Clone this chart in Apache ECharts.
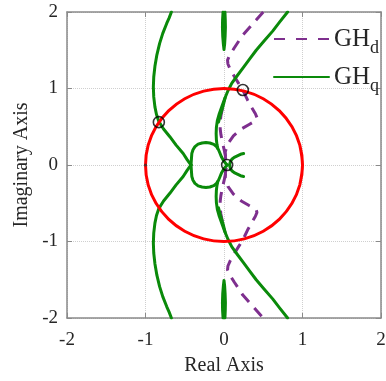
<!DOCTYPE html>
<html><head><meta charset="utf-8">
<script src="https://cdn.jsdelivr.net/npm/echarts@6/dist/echarts.min.js"></script>
<style>html,body{margin:0;padding:0;background:#fff}#c{width:386px;height:381px}</style>
</head><body><div id="c"></div>
<script>
// ---- data ----
const xTickLabels = ['-2', '-1', '0', '1', '2'];
const yTickLabels = ['-2', '-1', '0', '1', '2'];
const tickValues = [-2, -1, 0, 1, 2];

const unitCircle = [[0.966,-0.259],[1,0],[0.966,0.259],[0.866,0.5],[0.707,0.707],[0.5,0.866],[0.259,0.966],[0,1],[-0.259,0.966],[-0.5,0.866],[-0.707,0.707],[-0.866,0.5],[-0.966,0.259],[-1,0],[-0.966,-0.259],[-0.866,-0.5],[-0.707,-0.707],[-0.5,-0.866],[-0.259,-0.966],[0,-1],[0.259,-0.966],[0.5,-0.866],[0.707,-0.707],[0.866,-0.5],[0.966,-0.259],[1,0],[0.966,0.259]];

const dUpper = [[0.5,2.0],[0.37,1.85],[0.24,1.70],[0.13,1.53],[0.07,1.43],[0.045,1.37],[0.05,1.32],[0.08,1.25],[0.13,1.16],[0.19,1.06],[0.24,0.98],[0.30,0.85],[0.36,0.74],[0.40,0.67],[0.42,0.62],[0.41,0.585],[0.38,0.565],[0.32,0.53],[0.22,0.47],[0.12,0.38],[0.05,0.28],[0.015,0.17],[0.02,0.07],[0.04,0.0]];
const dLower = [[0.04,0.0],[0.02,-0.07],[0.015,-0.17],[0.05,-0.28],[0.12,-0.38],[0.22,-0.47],[0.32,-0.53],[0.38,-0.565],[0.41,-0.585],[0.42,-0.62],[0.40,-0.67],[0.36,-0.74],[0.30,-0.85],[0.24,-0.98],[0.19,-1.06],[0.13,-1.16],[0.08,-1.25],[0.05,-1.32],[0.045,-1.37],[0.07,-1.43],[0.13,-1.53],[0.24,-1.70],[0.37,-1.85],[0.5,-2.0]];
const dInnerUpper = [[-0.02,0.74],[-0.04,0.64],[-0.05,0.55],[-0.048,0.47],[-0.04,0.40],[-0.025,0.32],[-0.005,0.23],[0.015,0.14],[0.03,0.06],[0.04,0.0]];
const dInnerLower = [[-0.02,-0.74],[-0.04,-0.64],[-0.05,-0.55],[-0.048,-0.47],[-0.04,-0.40],[-0.025,-0.32],[-0.005,-0.23],[0.015,-0.14],[0.03,-0.06],[0.04,0.0]];

const qLeftUpper = [[-0.67,2.0],[-0.70,1.92],[-0.73,1.85],[-0.78,1.72],[-0.82,1.59],[-0.855,1.44],[-0.88,1.29],[-0.895,1.15],[-0.90,1.02],[-0.895,0.89],[-0.88,0.76],[-0.86,0.66],[-0.83,0.57],[-0.80,0.52],[-0.77,0.47],[-0.69,0.37],[-0.61,0.26],[-0.52,0.15],[-0.47,0.07],[-0.42,0.0]];
const qLeftLower = [[-0.67,-2.0],[-0.70,-1.92],[-0.73,-1.85],[-0.78,-1.72],[-0.82,-1.59],[-0.855,-1.44],[-0.88,-1.29],[-0.895,-1.15],[-0.90,-1.02],[-0.895,-0.89],[-0.88,-0.76],[-0.86,-0.66],[-0.83,-0.57],[-0.80,-0.52],[-0.77,-0.47],[-0.69,-0.37],[-0.61,-0.26],[-0.52,-0.15],[-0.47,-0.07],[-0.42,0.0]];
const qLoopUpper = [[-0.42,0.0],[-0.415,0.08],[-0.41,0.15],[-0.395,0.20],[-0.37,0.24],[-0.33,0.272],[-0.28,0.288],[-0.23,0.293],[-0.18,0.288],[-0.13,0.27],[-0.095,0.24],[-0.07,0.20],[-0.05,0.15],[-0.03,0.10],[-0.01,0.065],[0.01,0.035],[0.03,0.012],[0.04,0.0]];
const qLoopLower = [[-0.42,0.0],[-0.415,-0.08],[-0.41,-0.15],[-0.395,-0.20],[-0.37,-0.24],[-0.33,-0.272],[-0.28,-0.288],[-0.23,-0.293],[-0.18,-0.288],[-0.13,-0.27],[-0.095,-0.24],[-0.07,-0.20],[-0.05,-0.15],[-0.03,-0.10],[-0.01,-0.065],[0.01,-0.035],[0.03,-0.012],[0.04,0.0]];
const qCenterUpper = [[0.81,2.0],[0.71,1.87],[0.62,1.75],[0.51,1.62],[0.41,1.5],[0.33,1.39],[0.25,1.28],[0.17,1.17],[0.10,1.07],[0.05,0.97],[0.01,0.87],[-0.025,0.77],[-0.06,0.67],[-0.085,0.58],[-0.097,0.49],[-0.10,0.41],[-0.097,0.33],[-0.09,0.27],[-0.08,0.22]];
const qCenterLower = [[0.81,-2.0],[0.71,-1.87],[0.62,-1.75],[0.51,-1.62],[0.41,-1.5],[0.33,-1.39],[0.25,-1.28],[0.17,-1.17],[0.10,-1.07],[0.05,-0.97],[0.01,-0.87],[-0.025,-0.77],[-0.06,-0.67],[-0.085,-0.58],[-0.097,-0.49],[-0.10,-0.41],[-0.097,-0.33],[-0.09,-0.27],[-0.08,-0.22]];
const qSmile = [[0.25,0.15],[0.21,0.14],[0.17,0.12],[0.13,0.10],[0.10,0.075],[0.08,0.04],[0.07,0.0],[0.08,-0.04],[0.10,-0.075],[0.13,-0.10],[0.17,-0.12],[0.21,-0.14],[0.25,-0.15]];
const qBladeTop = [[-0.012,2.0],[-0.018,1.9],[-0.02,1.8],[-0.016,1.68],[-0.008,1.58],[0.0,1.51],[0.008,1.58],[0.014,1.68],[0.018,1.8],[0.016,1.9],[0.012,2.0]];
const qBladeBottom = [[-0.012,-2.0],[-0.018,-1.9],[-0.02,-1.8],[-0.016,-1.68],[-0.008,-1.58],[0.0,-1.51],[0.008,-1.58],[0.014,-1.68],[0.018,-1.8],[0.016,-1.9],[0.012,-2.0]];
const qThickUpper = [[0.015,0.88],[-0.012,0.77],[-0.045,0.66],[-0.07,0.56]];
const qThickLower = [[0.015,-0.88],[-0.012,-0.77],[-0.045,-0.66],[-0.07,-0.56]];

const crossingMarkers = [[-0.83,0.56],[0.24,0.98],[0.04,0.0]];
const criticalPoint = [[-1,0]];

// ---- styling ----
const SERIF = 'Liberation Serif';
const GREEN = '#0a8a0a';
const PURPLE = '#7E2F8E';
const RED = '#ff0000';
const AX = '#8a8a8a';
const TXT = '#262626';

function qSeries(data) {
  return { name: 'GHq', type: 'line', data: data, symbol: 'none', showSymbol: false, smooth: false,
    lineStyle: { color: GREEN, width: 3, join: 'round', cap: 'round' }, itemStyle: { color: GREEN }, z: 3, silent: true };
}
function dSeries(data) {
  return { name: 'GHd', type: 'line', data: data, symbol: 'none', showSymbol: false, smooth: false,
    lineStyle: { color: PURPLE, width: 3, type: [11, 8] }, itemStyle: { color: PURPLE }, z: 2, silent: true };
}

const chart = echarts.init(document.getElementById('c'));
const fmtX = v => { const i = tickValues.indexOf(v); return i >= 0 ? xTickLabels[i] : ''; };
const fmtY = v => { const i = tickValues.indexOf(v); return i >= 0 ? yTickLabels[i] : ''; };

const baseAxis = {
  type: 'value', min: -2, max: 2, interval: 1,
  axisLine: { show: true, onZero: false, lineStyle: { color: AX, width: 1.5 } },
  axisTick: { show: true, inside: true, length: 5, lineStyle: { color: AX, width: 1 } },
};

chart.setOption({
  animation: false,
  backgroundColor: '#ffffff',
  grid: { left: 67, right: 5, top: 12, bottom: 63, containLabel: false, outerBoundsMode: 'none' },
  xAxis: [
    Object.assign({}, baseAxis, {
      position: 'bottom',
      axisLabel: { fontSize: 19, fontFamily: SERIF, color: TXT, margin: 13, formatter: fmtX },
      splitLine: { show: true, lineStyle: { type: 'dotted', color: '#cfcfcf', width: 1 } },
      name: 'Real Axis', nameLocation: 'middle', nameGap: 38,
      nameTextStyle: { fontSize: 20, fontFamily: SERIF, color: TXT }
    }),
    Object.assign({}, baseAxis, { position: 'top', axisLabel: { show: false }, splitLine: { show: false } })
  ],
  yAxis: [
    Object.assign({}, baseAxis, {
      position: 'left',
      axisLabel: { fontSize: 19, fontFamily: SERIF, color: TXT, margin: 9, formatter: fmtY },
      splitLine: { show: true, lineStyle: { type: 'dotted', color: '#cfcfcf', width: 1 } },
      name: 'Imaginary Axis', nameLocation: 'middle', nameGap: 32,
      nameTextStyle: { fontSize: 20, fontFamily: SERIF, color: TXT }
    }),
    Object.assign({}, baseAxis, { position: 'right', axisLabel: { show: false }, splitLine: { show: false } })
  ],
  legend: {
    orient: 'vertical', left: 273, top: 19, padding: 0,
    itemWidth: 55, itemHeight: 14, itemGap: 0,
    itemStyle: { opacity: 0, borderWidth: 0 },
    data: [{ name: 'GHd', lineStyle: { type: [11, 11] } }, { name: 'GHq' }],
    formatter: n => n === 'GHd' ? '{a|GH}{b|d}' : '{a|GH}{b|q}',
    textStyle: {
      rich: {
        a: { fontSize: 25, fontFamily: SERIF, color: TXT, lineHeight: 36, verticalAlign: 'middle' },
        b: { fontSize: 18, fontFamily: SERIF, color: TXT, lineHeight: 16, verticalAlign: 'bottom', padding: [20, 0, 0, 0] }
      }
    }
  },
  series: [
    dSeries(dUpper.concat(dLower.slice(1))), dSeries(dInnerUpper), dSeries(dInnerLower),
    qSeries(qLeftUpper), qSeries(qLeftLower), qSeries(qLoopUpper), qSeries(qLoopLower),
    qSeries(qCenterUpper), qSeries(qCenterLower), qSeries(qSmile),
    qSeries(qBladeTop), qSeries(qBladeBottom), qSeries(qThickUpper), qSeries(qThickLower),
    { name: 'circle', type: 'line', data: unitCircle, symbol: 'none', smooth: 0.34,
      lineStyle: { color: RED, width: 3 }, z: 4, silent: true },
    { name: 'marks', type: 'scatter', data: crossingMarkers, symbol: 'circle', symbolSize: 11,
      itemStyle: { color: 'rgba(0,0,0,0)', borderColor: '#000', borderWidth: 1.6 }, z: 6, silent: true },
    { name: 'crit', type: 'scatter', data: criticalPoint, symbol: 'circle', symbolSize: 3,
      itemStyle: { color: '#333' }, z: 6, silent: true }
  ]
});
</script></body></html>
